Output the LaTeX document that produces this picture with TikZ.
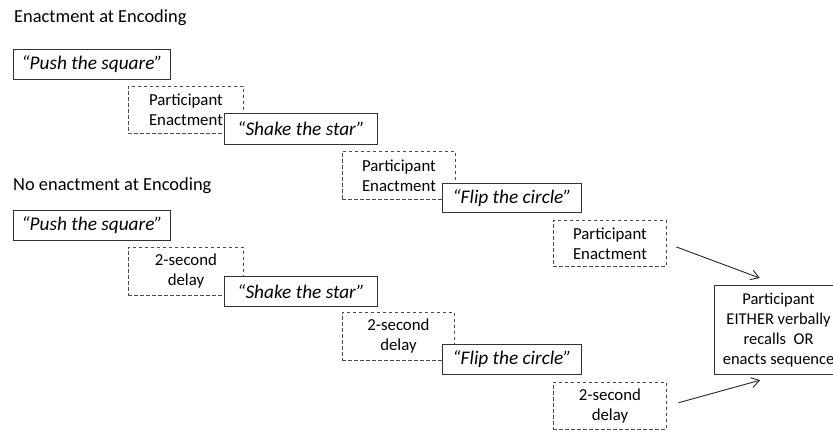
\documentclass[tikz,border=0pt]{standalone}
\usepackage{fontspec}
\setmainfont{Carlito}
\usetikzlibrary{arrows.meta}
\tikzset{
  sbox/.style={draw=black!80, line width=1.2pt, fill=white, anchor=north west, inner sep=0pt,
     font=\fontsize{19.3}{22}\selectfont\itshape},
  dbox/.style={draw=black!70, line width=0.9pt, dash pattern=on 3.5pt off 2.5pt, anchor=north west, inner sep=0pt,
     align=center, font=\fontsize{16.8}{20}\selectfont},
  fbox/.style={draw=black!80, line width=1.1pt, fill=white, anchor=north west, inner sep=0pt,
     align=center, font=\fontsize{16.5}{20}\selectfont},
  ttl/.style={anchor=base west, inner sep=0pt, font=\fontsize{18.4}{20}\selectfont},
  arr/.style={draw=black!85, line width=0.9pt, -{Straight Barb[length=8pt,width=10pt]}}
}
\begin{document}
\begin{tikzpicture}[x=1pt,y=-1pt]
\path[use as bounding box] (0,0) rectangle (833,433);
\clip (0,0) rectangle (833,433);
% titles
\node[ttl] (t1) at (14,23) {Enactment at Encoding};
\node[ttl] (t2) at (13,190) {No enactment at Encoding};
% dashed boxes (enactment)
\node[dbox, minimum width=115pt, minimum height=47pt] (d1) at (128,86) {Participant\\Enactment};
\node[dbox, minimum width=113pt, minimum height=48pt] (d2) at (342,151) {Participant\\Enactment};
\node[dbox, minimum width=113pt, minimum height=46pt] (d3) at (553,220) {Participant\\Enactment};
% dashed boxes (delay)
\node[dbox, minimum width=115pt, minimum height=48pt] (e1) at (128,247) {2-second\\delay};
\node[dbox, minimum width=112pt, minimum height=48pt] (e2) at (342,312) {2-second\\delay};
\node[dbox, minimum width=113pt, minimum height=47pt] (e3) at (553,382) {2-second\\delay};
% solid boxes
\node[sbox, minimum width=157pt, minimum height=30pt] (p1) at (13,49) {“Push the square”};
\node[sbox, minimum width=153pt, minimum height=31pt] (s1) at (224,113) {“Shake the star”};
\node[sbox, minimum width=139pt, minimum height=29pt] (f1) at (442,183) {“Flip the circle”};
\node[sbox, minimum width=157pt, minimum height=30pt] (p2) at (13,210) {“Push the square”};
\node[sbox, minimum width=153pt, minimum height=30pt] (s2) at (224,276) {“Shake the star”};
\node[sbox, minimum width=139pt, minimum height=30pt] (f2) at (442,344) {“Flip the circle”};
% final box
\node[fbox, minimum width=128pt, minimum height=89pt] (fin) at (714,285) {Participant\\EITHER verbally\\recalls\ \ OR\\enacts sequence};
% arrows
\draw[arr, shorten <=10pt, shorten >=20pt] (d3.east) -- (fin.north);
\draw[arr, shorten <=12pt, shorten >=19pt] (e3.east) -- (fin.south);
\end{tikzpicture}
\end{document}
